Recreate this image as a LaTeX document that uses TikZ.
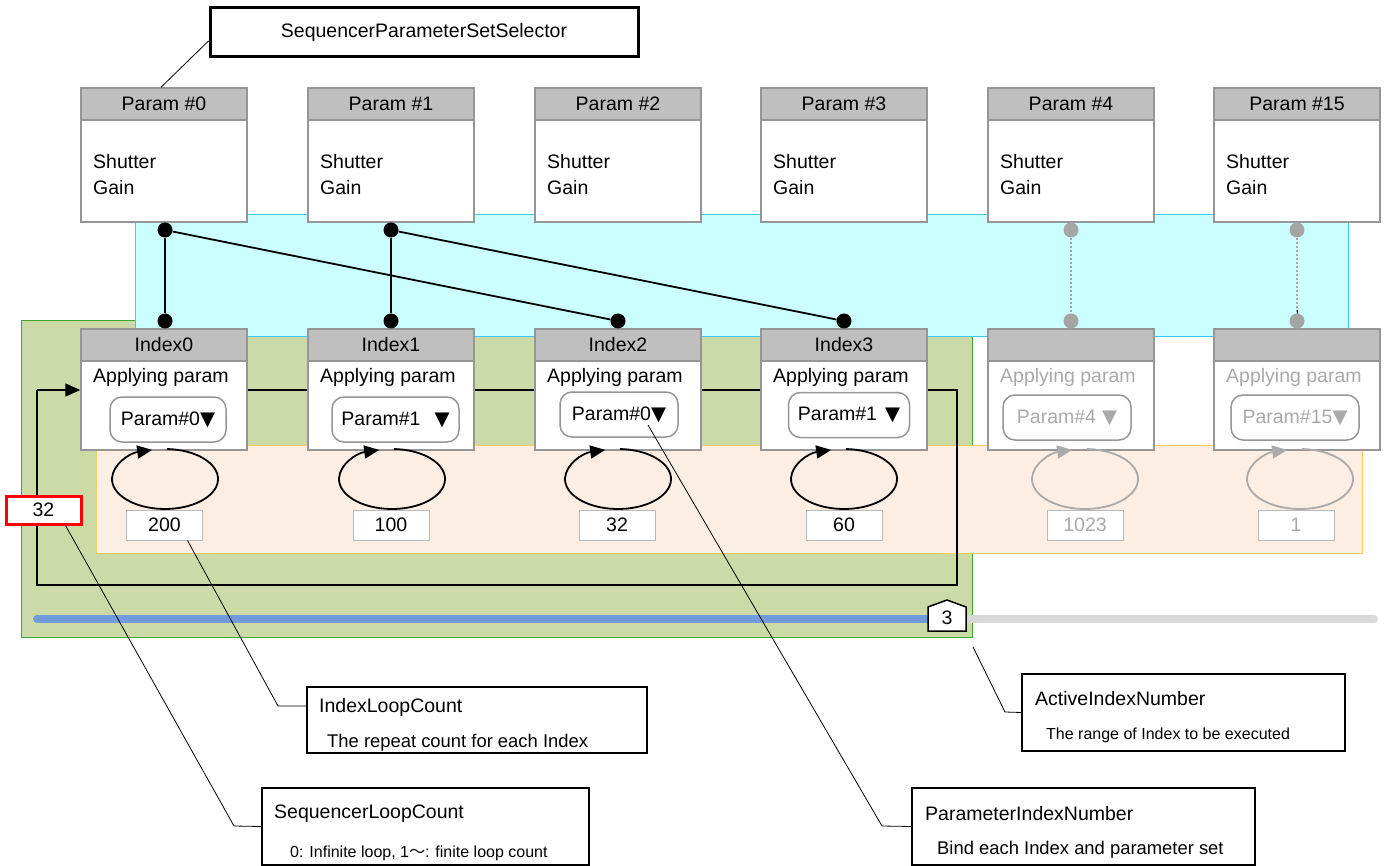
\documentclass[tikz,border=0pt]{standalone}
\usepackage{fontspec}
\setmainfont{Liberation Sans}
\newfontfamily\symfont{DejaVu Sans}
\newfontfamily\cjkfont{Noto Sans CJK JP}
\usetikzlibrary{arrows.meta}
\pgfdeclarelayer{bgfill}
\pgfdeclarelayer{back}
\pgfsetlayers{bgfill,back,main}
\definecolor{hdrgray}{RGB}{191,191,191}
\definecolor{bdgray}{RGB}{150,150,150}
\definecolor{cntgray}{RGB}{185,185,185}
\definecolor{txtgray}{RGB}{170,170,170}
\definecolor{dotgray}{RGB}{165,165,165}
\definecolor{cyanfill}{RGB}{204,255,255}
\definecolor{cyanbd}{RGB}{60,200,245}
\definecolor{greenfill}{RGB}{204,218,168}
\definecolor{greenbd}{RGB}{60,170,50}
\definecolor{peachfill}{RGB}{253,238,228}
\definecolor{peachbd}{RGB}{255,204,90}
\definecolor{barblue}{RGB}{112,156,218}
\definecolor{bargray}{RGB}{217,217,217}
\newcommand\fmain{\fontsize{19.5}{23}\selectfont}
\newcommand\fsub{\fontsize{18.4}{22}\selectfont}
\newcommand\fsmall{\fontsize{16}{19}\selectfont}
\newcommand\tri{{\symfont ▼}}
\begin{document}
\begin{tikzpicture}[x=1pt,y=-1pt,
  hdr/.style={draw=bdgray,line width=1.5pt,fill=hdrgray,minimum width=166pt,minimum height=32pt,inner sep=0pt,font=\fmain},
  pbody/.style={draw=bdgray,line width=1.5pt,fill=white,minimum width=166pt,minimum height=102pt,inner sep=0pt},
  ibody/.style={draw=bdgray,line width=1.5pt,fill=white,minimum width=166pt,minimum height=89pt,inner sep=0pt},
  lbl/.style={anchor=west,inner sep=0pt,font=\fmain},
  combo/.style={draw=bdgray,line width=1.5pt,fill=white,rounded corners=12pt,minimum height=45pt,inner sep=0pt,font=\fmain},
  cnt/.style={draw=cntgray,line width=1pt,fill=white,minimum width=76pt,minimum height=30pt,inner sep=0pt,font=\fmain},
  dot/.style={circle,fill=black,minimum size=15pt,inner sep=0pt},
  gdot/.style={circle,fill=dotgray,minimum size=15pt,inner sep=0pt},
  link/.style={line width=1.8pt},
  glink/.style={dotgray,line width=1.5pt,dash pattern=on 2pt off 2pt},
  loopln/.style={line width=1.8pt},
  loopc/.style={line width=1.8pt},
  arr/.style={-{Triangle[length=15pt,width=13pt]}},
  leader/.style={line width=0.8pt},
  callout/.style={draw=black,line width=1.5pt,fill=white,inner sep=0pt},
  bar/.style={line width=8pt,line cap=round}]
\useasboundingbox (0,0) rectangle (1391,866);
\begin{pgfonlayer}{bgfill}
\fill[white] (0,0) rectangle (1391,866);
\draw[greenbd,fill=greenfill,line width=1pt] (21,321) rectangle (972,637);
\draw[cyanbd,fill=cyanfill,line width=1pt] (135,215) rectangle (1348,336);
\draw[peachbd,fill=peachfill,line width=1pt] (96,445) rectangle (1362,553);
\end{pgfonlayer}

% top selector
\node[callout,line width=3pt,minimum width=428pt,minimum height=49pt,font=\fmain] (sps) at (424,32.5) {SequencerParameterSetSelector};

% parameter sets
\foreach \n/\x/\t in {0/164/0,1/391/1,2/618/2,3/844/3,4/1071/4,15/1297/15} {
  \node[pbody] (pb\n) at (\x,171) {};
  \node[hdr] (ph\n) at (\x,104) {Param \#\t};
  \node[lbl] at (\x-71,162) {Shutter};
  \node[lbl] at (\x-71,188) {Gain};
}

% index boxes
\foreach \n/\x in {0/164,1/391,2/618,3/844} {
  \node[ibody] (ib\n) at (\x,405.5) {};
  \node[hdr] (ih\n) at (\x,345) {Index\n};
  \node[lbl] at (\x-71,377) {Applying param};
}
\foreach \n/\x in {4/1071,15/1297} {
  \node[ibody] (ib\n) at (\x,405.5) {};
  \node[hdr] (ih\n) at (\x,345) {};
  \node[lbl,text=txtgray] at (\x-71,377) {Applying param};
}

% combo boxes
\node[combo,minimum width=116pt] (cb0) at (168,419.5) {Param\#0\tri};
\node[combo,minimum width=127pt] (cb1) at (395.5,419.5) {Param\#1\hspace{14pt}\tri};
\node[combo,minimum width=118pt] (cb2) at (619,414.5) {Param\#0\tri};
\node[combo,minimum width=121pt] (cb3) at (849,415) {Param\#1\hspace{8pt}\tri};
\node[combo,minimum width=128pt,text=txtgray] (cb4) at (1067,417.5) {Param\#4\hspace{6pt}{\color{txtgray}\tri}};
\node[combo,minimum width=128pt,text=txtgray] (cb15) at (1295,417.5) {Param\#15{\color{txtgray}\tri}};

% connector dots
\foreach \n/\x in {0/165,1/391} {
  \node[dot] (d\n) at (\x,230) {};
}
\foreach \n/\x in {0/165,1/391,2/618,3/844} {
  \node[dot] (e\n) at (\x,321) {};
}
\node[gdot] (d4) at (1071,230) {};
\node[gdot] (e4) at (1071,321) {};
\node[gdot] (d15) at (1297,230) {};
\node[gdot] (e15) at (1297,321) {};

% loop counters
\foreach \n/\x in {0/165,1/392,2/618,3/844} {
  \coordinate (lc\n) at (\x,479);
  \draw[loopc,arr] (lc\n) ++(88:53pt and 30pt) arc[start angle=88,end angle=-256,x radius=53pt,y radius=30pt];
}
\foreach \n/\x in {4/1085,15/1300} {
  \coordinate (lc\n) at (\x,479);
  \draw[loopc,arr,txtgray] (lc\n) ++(88:53pt and 30pt) arc[start angle=88,end angle=-256,x radius=53pt,y radius=30pt];
}
\node[cnt] (cnt0) at (164.5,525) {200};
\node[cnt] (cnt1) at (391,525) {100};
\node[cnt] (cnt2) at (617,525) {32};
\node[cnt] (cnt3) at (844,525) {60};
\node[cnt,text=txtgray] (cnt4) at (1085,525) {1023};
\node[cnt,text=txtgray] (cnt15) at (1296,525) {1};

% sequencer loop count value
\node[draw=red,line width=3pt,fill=white,minimum width=75pt,minimum height=28pt,inner sep=0pt,font=\fmain] (slcv) at (43.5,510) {32};

% progress marker
\filldraw[fill=white,draw=black,line width=1.5pt] (928,607) -- (947,600) -- (966,607) -- (966,631) -- (928,631) -- cycle;
\node[inner sep=0pt,font=\fmain] (aval) at (947,618) {3};

\begin{pgfonlayer}{back}
  \draw[link] (d0) -- (e0);
  \draw[link] (d0) -- (e2);
  \draw[link] (d1) -- (e1);
  \draw[link] (d1) -- (e3);
  \draw[glink] (d4) -- (e4);
  \draw[glink] (d15) -- (e15);
  \draw[line width=1pt] (1297,310) -- (ih15.north);
  \draw[line width=1pt,black!70] ([xshift=5pt]cb15.south) -- ([xshift=5pt]cb15.south |- 0,449);
  \coordinate (lpTL) at (37,390);
  \coordinate (lpTR) at (957,390);
  \coordinate (lpBR) at (957,585);
  \coordinate (lpBL) at (37,585);
  \draw[loopln] (ib0.east |- lpTR) -- (lpTR) -- (lpBR) -- (lpBL) -- (lpTL);
  \draw[loopln,arr] (lpTL) -- (ib0.west |- lpTL);
  \draw[bar,barblue] (37,619) -- (930,619);
  \draw[bar,bargray] (968,619) -- (1374,619);
\end{pgfonlayer}

% callouts
\node[callout,minimum width=340pt,minimum height=66pt] (ilc) at (477,720) {};
\node[lbl] at (319,707) {IndexLoopCount};
\node[lbl,font=\fsub] at (327,743) {The repeat count for each Index};

\node[callout,minimum width=327pt,minimum height=77pt] (slc) at (425.5,826.5) {};
\node[lbl] at (274,814) {SequencerLoopCount};
\node[lbl,font=\fsmall] at (290,853) {0: Infinite loop, 1{\cjkfont ～}: finite loop count};

\node[callout,minimum width=343pt,minimum height=77pt] (pin) at (1083.5,826.5) {};
\node[lbl] at (925,814) {ParameterIndexNumber};
\node[lbl,font=\fsub] at (937,850) {Bind each Index and parameter set};

\node[callout,minimum width=323pt,minimum height=77pt] (ain) at (1183.5,712.5) {};
\node[lbl] at (1035,699) {ActiveIndexNumber};
\node[lbl,font=\fsmall] at (1046,735) {The range of Index to be executed};

% leaders
\coordinate (kIlc) at (278,706);
\coordinate (kSlc) at (234,826);
\coordinate (sPin) at (648,425);
\coordinate (kPin) at (882,826);
\coordinate (sAin) at (973,647);
\coordinate (kAin) at (1005,712);
\draw[leader] ([xshift=-3pt]ph0.north) -- ([yshift=-8.5pt]sps.west);
\draw[leader] ([xshift=23pt]cnt0.south) -- (kIlc) -- ([yshift=14pt]ilc.west);
\draw[leader] ([xshift=22pt]slcv.south) -- (kSlc) -- (slc.west);
\draw[leader] (sPin) -- (kPin) -- (pin.west);
\draw[leader] (sAin) -- (kAin) -- (ain.west);
\end{tikzpicture}
\end{document}
